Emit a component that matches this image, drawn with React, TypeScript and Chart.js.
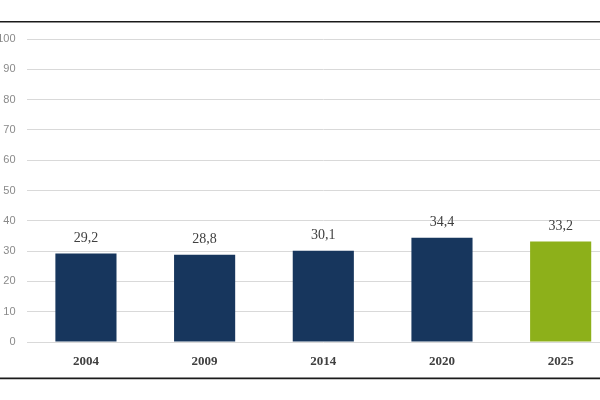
import React, { useEffect, useRef } from "react";
import { Chart, registerables } from "chart.js";

Chart.register(...registerables);

const categories = ["2004", "2009", "2014", "2020", "2025"];
const values = [29.2, 28.8, 30.1, 34.4, 33.2];
const barColors = ["#17365d", "#17365d", "#17365d", "#17365d", "#8db01a"];
const yTicks = [0, 10, 20, 30, 40, 50, 60, 70, 80, 90, 100];

const dataLabelPlugin = {
  id: "dataLabels",
  afterDatasetsDraw(chart: any) {
    const ctx = chart.ctx;
    const meta = chart.getDatasetMeta(0);
    ctx.save();
    ctx.font = "14px 'Liberation Serif'";
    ctx.fillStyle = "#404040";
    ctx.textAlign = "center";
    ctx.textBaseline = "middle";
    meta.data.forEach((bar: any, i: number) => {
      const v = values[i];
      ctx.fillText(v.toFixed(1).replace(".", ","), bar.x, bar.y - 15);
    });
    ctx.restore();
  },
};

const framePlugin = {
  id: "frame",
  afterDraw(chart: any) {
    const ctx = chart.ctx;
    ctx.save();
    ctx.strokeStyle = "#1a1a1a";
    ctx.lineWidth = 1.6;
    ctx.beginPath();
    ctx.moveTo(0, 21.8);
    ctx.lineTo(chart.width, 21.8);
    ctx.moveTo(0, 378.4);
    ctx.lineTo(chart.width, 378.4);
    ctx.stroke();
    ctx.restore();
  },
};

export default function App() {
  const ref = useRef<HTMLCanvasElement>(null);
  useEffect(() => {
    document.documentElement.style.overflow = "hidden";
    document.body.style.overflow = "hidden";
    const chart = new Chart(ref.current!, {
      type: "bar",
      data: {
        labels: categories,
        datasets: [
          {
            data: values,
            backgroundColor: barColors,
            barPercentage: 0.515,
            categoryPercentage: 1,
          },
        ],
      },
      options: {
        animation: false,
        responsive: false,
        maintainAspectRatio: false,
        layout: { padding: { top: 39, left: 0, right: 0, bottom: 0 } },
        plugins: {
          legend: { display: false },
          tooltip: { enabled: false },
        },
        scales: {
          x: {
            grid: { display: false },
            border: { display: false },
            ticks: {
              padding: 4,
              color: "#404040",
              font: { family: "'Liberation Serif'", size: 13, weight: "bold" },
            },
            afterFit(scale: any) {
              scale.height = 58;
            },
          },
          y: {
            min: 0,
            max: 100,
            afterBuildTicks(scale: any) {
              scale.ticks = yTicks.map((v) => ({ value: v }));
            },
            grid: { color: "#d9d9d9", lineWidth: 1, drawTicks: false },
            border: { display: false },
            ticks: {
              padding: 11,
              color: "#8a8a8a",
              font: { family: "'Liberation Sans'", size: 11 },
            },
            afterFit(scale: any) {
              scale.width = 26.6;
            },
          },
        },
      },
      plugins: [dataLabelPlugin, framePlugin],
    });
    return () => chart.destroy();
  }, []);
  return (
    <div style={{ position: "fixed", left: 0, top: 0, width: 620, height: 400, background: "#fff" }}>
      <canvas ref={ref} width={620} height={400} style={{ width: 620, height: 400 }} />
    </div>
  );
}
